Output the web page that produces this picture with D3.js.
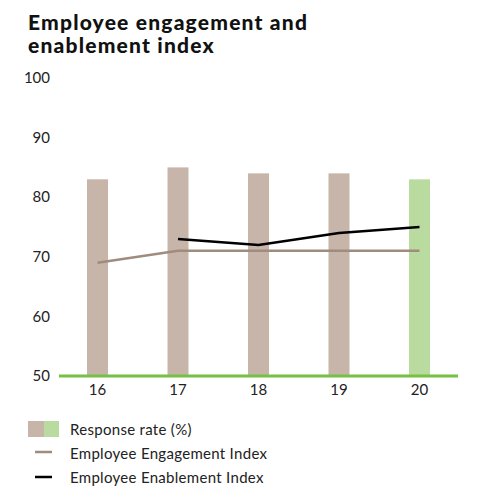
<!DOCTYPE html>
<html>
<head>
<meta charset="utf-8">
<script src="https://cdn.jsdelivr.net/npm/d3@7"></script>
<style>
  body { margin: 0; background: #fff; }
  svg { display: block; font-family: Lato, "Open Sans", sans-serif; }
</style>
</head>
<body>
<div id="chart"></div>
<script>
// data
const years = ['16', '17', '18', '19', '20'];
const responseRate = [83, 85, 84, 84, 83];
const engagement = [69, 71, 71, 71, 71];
const enablement = [null, 73, 72, 74, 75];
const yTicks = [50, 60, 70, 80, 90, 100];

const width = 496, height = 492;

const svg = d3.select('#chart')
  .append('svg')
  .attr('width', width)
  .attr('height', height);

// Title
const title = svg.append('text')
  .attr('x', 28)
  .attr('y', 30)
  .attr('font-size', 21)
  .attr('font-weight', 900)
  .attr('letter-spacing', 1.2)
  .attr('fill', '#111');
title.append('tspan').attr('x', 28).attr('dy', 0).text('Employee engagement and');
title.append('tspan').attr('x', 28).attr('dy', 23).text('enablement index');

// Scales
const x = d3.scalePoint()
  .domain(years)
  .range([97.5, 419.5]);

const y = d3.scaleLinear()
  .domain([50, 100])
  .range([376, 78]);

const barW = 21;

// Y tick labels
svg.append('g')
  .selectAll('text')
  .data(yTicks)
  .enter()
  .append('text')
  .attr('x', 50)
  .attr('y', d => y(d))
  .attr('dy', '0.35em')
  .attr('text-anchor', 'end')
  .attr('font-size', 15)
  .attr('fill', '#222')
  .text(d => d);

// Bars
svg.append('g')
  .selectAll('rect')
  .data(responseRate)
  .enter()
  .append('rect')
  .attr('x', (d, i) => x(years[i]) - barW / 2)
  .attr('y', d => y(d))
  .attr('width', barW)
  .attr('height', d => y(50) - y(d))
  .attr('fill', (d, i) => i === years.length - 1 ? '#b9dba0' : '#c8b5a9');

// Lines
const line = d3.line()
  .defined(d => d[1] != null)
  .x(d => x(d[0]))
  .y(d => y(d[1]));

svg.append('path')
  .datum(years.map((yr, i) => [yr, engagement[i]]))
  .attr('fill', 'none')
  .attr('stroke', '#a08b7f')
  .attr('stroke-width', 2.5)
  .attr('d', line);

svg.append('path')
  .datum(years.map((yr, i) => [yr, enablement[i]]))
  .attr('fill', 'none')
  .attr('stroke', '#000')
  .attr('stroke-width', 2.5)
  .attr('d', line);

// X axis baseline
svg.append('line')
  .attr('x1', 59)
  .attr('x2', 458)
  .attr('y1', y(50))
  .attr('y2', y(50))
  .attr('stroke', '#76c043')
  .attr('stroke-width', 3);

// X labels
svg.append('g')
  .selectAll('text')
  .data(years)
  .enter()
  .append('text')
  .attr('x', d => x(d))
  .attr('y', 390)
  .attr('dy', '0.35em')
  .attr('text-anchor', 'middle')
  .attr('font-size', 15)
  .attr('fill', '#222')
  .text(d => d);

// Legend
const legend = svg.append('g');
legend.append('rect').attr('x', 28).attr('y', 421).attr('width', 16).attr('height', 16).attr('fill', '#c8b5a9');
legend.append('rect').attr('x', 44).attr('y', 421).attr('width', 15).attr('height', 16).attr('fill', '#b9dba0');
legend.append('line').attr('x1', 35).attr('x2', 52).attr('y1', 452).attr('y2', 452)
  .attr('stroke', '#a08b7f').attr('stroke-width', 2.5);
legend.append('line').attr('x1', 35).attr('x2', 52).attr('y1', 477).attr('y2', 477)
  .attr('stroke', '#000').attr('stroke-width', 2.5);

const legendItems = [
  ['Response rate (%)', 430],
  ['Employee Engagement Index', 454],
  ['Employee Enablement Index', 478]
];
legend.selectAll('text')
  .data(legendItems)
  .enter()
  .append('text')
  .attr('x', 70)
  .attr('y', d => d[1])
  .attr('dy', '0.35em')
  .attr('font-size', 15)
  .attr('letter-spacing', 0.3)
  .attr('fill', '#222')
  .text(d => d[0]);
</script>
</body>
</html>
